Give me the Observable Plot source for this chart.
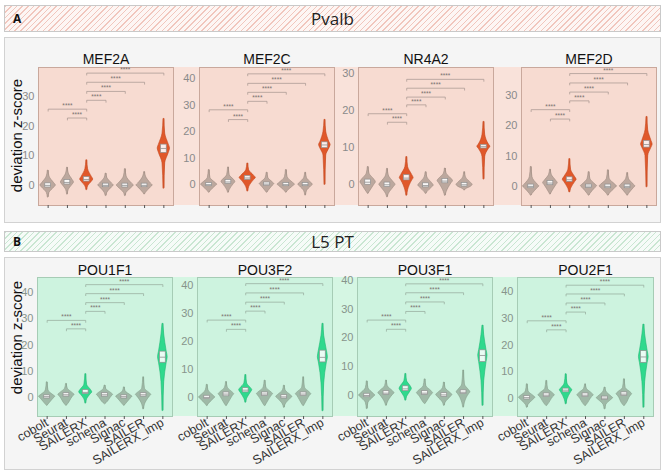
<!DOCTYPE html>
<html><head><meta charset="utf-8">
<script src="https://cdn.jsdelivr.net/npm/d3@7"></script>
<script src="https://cdn.jsdelivr.net/npm/@observablehq/plot@0.6"></script>
<style>
body{margin:0;background:#fff;}
#root{position:relative;width:665px;height:472px;overflow:hidden;font-family:"Liberation Sans",Arial,sans-serif;background:#fff;}
.abs{position:absolute;box-sizing:border-box;}
.hdr{border:1px solid #c9c9c9;}
.hdr .lab{position:absolute;left:8px;top:0;font-family:"Open Sans",sans-serif;font-weight:bold;font-size:12px;color:#111;}
.hdr .ttl{position:absolute;left:0;right:0;top:0;text-align:center;font-family:"Open Sans",sans-serif;font-size:17px;color:#222;}
.panel{background:#f5f5f5;border:1px solid #d2d2d2;}
.ylab{position:absolute;width:200px;text-align:center;font-size:15px;color:#111;transform:rotate(-90deg);transform-origin:center center;}
svg{overflow:visible;}
</style></head><body><div id="root"></div>
<script>
// ---------- data ----------
const categories = ["cobolt","Seurat","SAILERX","schema","Signac","SAILER","SAILERX_imp"];
const highlighted = ["SAILERX","SAILERX_imp"];
const panelAGenes = ["MEF2A","MEF2C","NR4A2","MEF2D"];
const panelBGenes = ["POU1F1","POU3F2","POU3F1","POU2F1"];
// per violin: [min, bodyLow, q1, median, q3, bodyHigh, max, halfWidth]
const MEF2A = [[-4,-2.5,-0.7,0,0.7,3,5,0.4],[-3,-1.5,0.3,1,1.8,4,6,0.34],[-1.5,-0.3,1.3,2,2.8,5.5,8.5,0.34],[-3.5,-2.5,-0.6,0,0.6,2.5,4,0.4],[-3.5,-2.5,-0.7,0,0.6,3,5.5,0.44],[-3,-2.5,-0.6,0,0.6,3,4.5,0.42],[-1,7.5,11,12.5,13.8,17.5,22.5,0.32]];
const MEF2C = [[-3,-2.5,-0.6,0,0.6,2.5,5.5,0.42],[-3,-2,0.3,1,1.8,3.5,6.5,0.36],[-2.5,-1,1.8,2.5,3.3,5.5,8,0.42],[-3,-2.5,-0.4,0.2,0.8,2.5,4.5,0.38],[-3,-2.5,-0.6,0,0.6,2.8,5.5,0.45],[-4,-2.5,-0.6,0,0.6,2.5,4.5,0.38],[0,11,13.8,15,16,20,24.5,0.3]];
const NR4A2 = [[-2.4,-2,0,0.7,1.4,3,4.8,0.4],[-3.3,-2.5,-0.6,0,0.6,2.5,4.3,0.42],[-2.9,-1.5,1.2,1.8,2.6,4.8,7.5,0.36],[-2.4,-2,-0.7,-0.2,0.4,2,3.4,0.4],[-2.9,-2,0.4,1,1.6,3,4.4,0.4],[-1.5,-1.2,-0.5,0,0.5,2,3.4,0.42],[1.5,7.5,9.8,10.3,10.8,13.5,17,0.34]];
const MEF2D = [[-3,-2.5,-0.6,0,0.6,3,6.4,0.42],[-2.6,-2,0.4,1.1,1.8,3.8,5.5,0.38],[-1.9,-0.8,1.5,2.2,3,5.5,9,0.36],[-3,-2.5,-0.5,0.1,0.6,2.5,4.7,0.42],[-3,-2.5,-0.6,0,0.6,2.5,5.3,0.45],[-3,-2.5,-0.6,0,0.6,2.5,4.4,0.4],[-0.2,10,12.8,13.8,15,18.5,22.9,0.3]];
const POU1F1 = [[-2.9,-2.5,-0.2,0.5,1,2.8,5.9,0.42],[-2.9,-2.5,0.5,1.2,1.8,3.5,5.3,0.42],[-2,-0.5,1.5,2.1,3,5,9,0.34],[-2.3,-2,0.5,1.2,1.8,3.3,4.7,0.42],[-2.9,-2.5,-0.2,0.5,1,2.5,4,0.42],[-4.2,-2.5,0.5,1.2,1.8,3.5,7.8,0.4],[-4.8,6,13.3,15.4,17.5,24,28,0.25]];
const POU3F2 = [[-3,-2.5,-0.6,0,0.6,2.5,4.5,0.42],[-3,-2.5,0.4,1.2,1.8,3.5,5.5,0.4],[-1.8,-0.5,1.8,2.6,3.3,5,8,0.34],[-3,-2.5,0.5,1.2,1.8,3.5,6,0.42],[-3.6,-2.5,-0.4,0.2,0.8,2.5,4.2,0.42],[-3,-2.5,0.5,1.2,1.8,3.5,7.2,0.4],[-4.8,5,12.5,14.3,16.7,22,26.3,0.26]];
const POU3F1 = [[-4.6,-2.5,-0.6,0,0.6,2.5,4.9,0.42],[-3.5,-2.5,0.2,0.8,1.5,3.2,5.2,0.42],[-1.7,-0.5,1.5,2.3,3.2,5,7.5,0.32],[-2.9,-2.5,0.2,0.8,1.5,3.2,5.6,0.42],[-3.5,-2.5,-0.5,0.2,0.8,2.5,4.5,0.42],[-4.1,-2.5,0.5,1.1,1.8,3.8,8.7,0.36],[-3.5,5,11.6,13.9,15.7,21,24.3,0.24]];
const POU2F1 = [[-3.5,-2.5,-0.5,0.2,0.8,2.5,5.2,0.42],[-2.9,-2.5,0.4,1.1,1.8,3.5,6.5,0.42],[-2.2,-0.5,2.2,3,3.6,5.5,9,0.32],[-2.9,-2.5,0.4,1.1,1.8,3.5,5.2,0.42],[-4.1,-2.5,-0.6,0,0.6,2.5,4,0.42],[-2.9,-2.5,0.8,1.5,2.2,3.8,7.1,0.4],[-3.5,6,13.3,15.5,17.7,24,27.7,0.25]];
// significance brackets: pairs and their heights
const bracketPairs = [["Seurat","SAILERX"],["cobolt","SAILERX"],["SAILERX","schema"],["SAILERX","Signac"],["SAILERX","SAILER"],["SAILERX","SAILERX_imp"]];
const bracketLabel = "****";
const bracketsA = {MEF2A:[22.8,25.8,28.8,31.8,34.9,38], MEF2C:[24.6,28.3,31.5,34.9,38.3,41.9], NR4A2:[16.9,19.2,21.6,23.7,26.1,28.5], MEF2D:[22.2,25.3,28.2,31.1,34.1,37.2]};
const bracketsB = {POU1F1:[26.1,29.3,32.7,36,39.4,42.8], POU3F2:[24.3,27.6,30.8,34,37.3,40.6], POU3F1:[23,26.2,29.2,32.5,35.7,38.8], POU2F1:[25.7,29.1,32.4,35.8,39.2,42.5]};
const yDomains = {MEF2A:[-6.8,39.9], MEF2C:[-7.9,44.3], NR4A2:[-5.6,31.7], MEF2D:[-6.3,39.2], POU1F1:[-7,45.5], POU3F2:[-6.8,42.8], POU3F1:[-7.3,41], POU2F1:[-6.9,45.4]};
const yTicks = {MEF2A:[0,10,20,30], MEF2C:[0,10,20,30,40], NR4A2:[0,10,20,30], MEF2D:[0,10,20,30], POU1F1:[0,10,20,30,40], POU3F2:[0,10,20,30,40], POU3F1:[0,10,20,30,40], POU2F1:[0,10,20,30,40]};
const statsA = {MEF2A, MEF2C, NR4A2, MEF2D};
const statsB = {POU1F1, POU3F2, POU3F1, POU2F1};
const panelTitles = {A:"Pvalb", B:"L5 PT"};
const yLabel = "deviation z-score";

// ---------- layout / styles ----------
const themes = {
  A: {hatch:"#f1c6bd", hatchBg:"#fdf6f4", back:"#f9e2da", box:"#f7dbd1", boxStroke:"#c9a89c", gray:"#bca89e", grayStroke:"#9d897f", hl:"#e0582a", hlStroke:"#c4461c", tick:"#8a8a8a", br:"#a3948e"},
  B: {hatch:"#c9e6d2", hatchBg:"#f6fbf8", back:"#d5f6e3", box:"#cdf3df", boxStroke:"#a6ccb5", gray:"#9fb9a7", grayStroke:"#84a08c", hl:"#2fd98d", hlStroke:"#20b873", tick:"#87948b", br:"#93a89a"}
};
const root = document.getElementById("root");
function div(cls, css, html) { const d = document.createElement("div"); d.className = cls; d.style.cssText = css; if (html) d.innerHTML = html; root.appendChild(d); return d; }

function header(letter, top, h, th) {
  const d = div("abs hdr", `left:4px;top:${top}px;width:657px;height:${h}px;background:repeating-linear-gradient(135deg, ${th.hatch} 0px, ${th.hatch} 1px, ${th.hatchBg} 1px, ${th.hatchBg} 4px);`);
  d.innerHTML = `<div class="lab" style="line-height:${h-2}px">${letter}</div><div class="ttl" style="line-height:${h-2}px">${panelTitles[letter]}</div>`;
}

function facet(gene, stats, heights, th, frame, showLabels, titleDy) {
  const mL = 30, mR = 6, mT = 24, mB = showLabels ? 64 : 10;
  const rows = stats.map((s, i) => ({i, cat: categories[i], min:s[0], lo:s[1], q1:s[2], med:s[3], q3:s[4], hi:s[5], max:s[6], w:s[7], hl: highlighted.includes(categories[i])}));
  const prof = r => [[r.min,0.02],[r.lo,0.07],[r.q1,0.8*r.w],[r.med,r.w],[r.q3,0.8*r.w],[r.hi,0.07],[r.max,0.02]].map(([y,w]) => ({i:r.i, y, w}));
  const grayProf = rows.filter(r => !r.hl).flatMap(prof);
  const hlProf = rows.filter(r => r.hl).flatMap(prof);
  const [y0, y1] = yDomains[gene];
  const tickLen = (y1 - y0) * 0.014;
  const br = bracketPairs.map(([a, b], k) => ({k, a: categories.indexOf(a), b: categories.indexOf(b), h: heights[k]}));
  const brPts = br.flatMap(d => [{k:d.k,x:d.a,y:d.h-tickLen},{k:d.k,x:d.a,y:d.h},{k:d.k,x:d.b,y:d.h},{k:d.k,x:d.b,y:d.h-tickLen}]);
  const bw = 0.15;
  const p = Plot.plot({
    width: frame.w + mL + mR, height: frame.h + mT + mB,
    marginLeft: mL, marginRight: mR, marginTop: mT, marginBottom: mB,
    x: {domain: [-0.5, 6.5]},
    y: {domain: yDomains[gene]},
    style: {background: "transparent", overflow: "visible", fontFamily: '"Liberation Sans", Arial, sans-serif'},
    marks: [
      Plot.frame({fill: th.box, stroke: th.boxStroke, strokeWidth: 1}),
      Plot.axisY({ticks: yTicks[gene], tickSize: 0, tickPadding: 4, fontSize: 11, color: th.tick, label: null}),
      Plot.axisX({ticks: d3.range(categories.length), tickFormat: i => showLabels ? categories[i] : "", tickSize: 3, tickPadding: 2, tickRotate: showLabels ? -30 : 0, fontSize: 12.5, color: "#555", fill: "#333", label: null}),
      Plot.ruleX(rows.filter(r => !r.hl), {x: "i", y1: "min", y2: "max", stroke: th.grayStroke, strokeWidth: 0.9}),
      Plot.ruleX(rows.filter(r => r.hl), {x: "i", y1: "min", y2: "max", stroke: th.hlStroke, strokeWidth: 0.9}),
      Plot.areaX(grayProf, {y: "y", x1: d => d.i - d.w, x2: d => d.i + d.w, z: "i", fill: th.gray, stroke: th.grayStroke, strokeWidth: 0.6, curve: "monotone-y"}),
      Plot.areaX(hlProf, {y: "y", x1: d => d.i - d.w, x2: d => d.i + d.w, z: "i", fill: th.hl, stroke: th.hlStroke, strokeWidth: 0.6, curve: "monotone-y"}),
      Plot.rect(rows, {x1: d => d.i - bw, x2: d => d.i + bw, y1: "q1", y2: "q3", fill: "white", fillOpacity: 0.9, stroke: "#8f8f8f", strokeWidth: 0.7}),
      Plot.ruleY(rows, {y: "med", x1: d => d.i - bw, x2: d => d.i + bw, stroke: "#8f8f8f", strokeWidth: 0.8}),
      Plot.line(brPts, {x: "x", y: "y", z: "k", stroke: th.br, strokeWidth: 0.7}),
      Plot.text(br, {x: d => (d.a + d.b) / 2, y: "h", text: () => bracketLabel, dy: -1, lineAnchor: "bottom", fontSize: 6.5, fill: "#7a7270"}),
      Plot.text([gene], {text: d => d, frameAnchor: "top", lineAnchor: "bottom", dy: titleDy, fontSize: 14, fill: "#111"})
    ]
  });
  p.style.position = "absolute";
  p.style.left = (frame.x - mL) + "px";
  p.style.top = (frame.y - mT) + "px";
  root.appendChild(p);
}

// Panel A
header("A", 5, 27, themes.A);
div("abs panel", "left:4px;top:37px;width:657px;height:186px;");
div("abs", `left:38px;top:67px;width:618px;height:138px;background:${themes.A.back};`);
const framesA = [{x:38,y:67,w:135,h:138},{x:199,y:67,w:135,h:138},{x:358,y:67,w:135,h:138},{x:521,y:67,w:135,h:138}];
panelAGenes.forEach((g, k) => facet(g, statsA[g], bracketsA[g], themes.A, framesA[k], false, -4));
div("ylab", "left:-84px;top:127px;", yLabel);

// Panel B
header("B", 231, 21, themes.B);
div("abs panel", "left:4px;top:257px;width:657px;height:213px;");
div("abs", `left:37px;top:277px;width:617px;height:139px;background:${themes.B.back};`);
const framesB = [{x:37,y:277,w:135,h:139},{x:197,y:277,w:135,h:139},{x:357,y:277,w:135,h:139},{x:517,y:277,w:136,h:139}];
panelBGenes.forEach((g, k) => facet(g, statsB[g], bracketsB[g], themes.B, framesB[k], true, -3));
div("ylab", "left:-84px;top:329px;", yLabel);
</script>
</body></html>
